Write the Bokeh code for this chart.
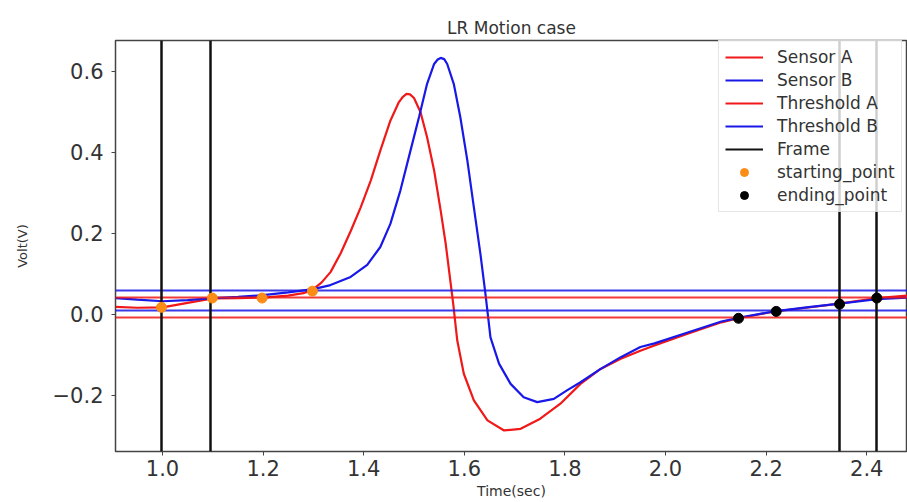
from bokeh.plotting import figure
from bokeh.models import FixedTicker, Legend
from bokeh.embed import file_html
from bokeh.resources import INLINE

NaN = float("nan")

# ---- data ----
sensor_a_x = [0.907, 0.95, 1.0, 1.05, 1.1, 1.15, 1.2, 1.25, 1.28, 1.298, 1.316, 1.334, 1.354, 1.374,
              1.394, 1.414, 1.433, 1.453, 1.470, 1.478, 1.485, 1.492, 1.500, 1.513, 1.526, 1.540, 1.553, 1.563,
              1.573, 1.578, 1.586, 1.599, 1.619, 1.646, 1.679, 1.712, 1.751, 1.791, 1.831, 1.871,
              1.911, 1.950, 1.978, 2.044, 2.111, 2.145, 2.2, 2.22, 2.28, 2.346, 2.42, 2.481]
sensor_a_y = [0.018, 0.016, 0.017, 0.028, 0.039, 0.040, 0.041, 0.046, 0.052, 0.060, 0.078, 0.104, 0.150, 0.205,
              0.264, 0.330, 0.404, 0.478, 0.524, 0.537, 0.544, 0.543, 0.534, 0.499, 0.437, 0.355, 0.256, 0.174,
              0.075, 0.025, -0.065, -0.147, -0.213, -0.262, -0.287, -0.283, -0.258, -0.221, -0.172, -0.135,
              -0.110, -0.090, -0.077, -0.048, -0.020, -0.010, 0.003, 0.007, 0.016, 0.026, 0.040, 0.046]

sensor_b_x = [0.907, 0.95, 1.0, 1.05, 1.1, 1.15, 1.2, 1.25, 1.3, 1.334, 1.374, 1.407, 1.433, 1.453,
              1.473, 1.493, 1.510, 1.526, 1.540, 1.547, 1.553, 1.560, 1.566, 1.579, 1.592, 1.606, 1.619, 1.632,
              1.642, 1.652, 1.669, 1.692, 1.718, 1.745, 1.778, 1.804, 1.831, 1.871, 1.911, 1.950,
              1.978, 2.044, 2.111, 2.145, 2.22, 2.28, 2.346, 2.42, 2.481]
sensor_b_y = [0.040, 0.036, 0.032, 0.035, 0.040, 0.043, 0.047, 0.054, 0.062, 0.072, 0.092, 0.122, 0.166, 0.223,
              0.306, 0.404, 0.487, 0.569, 0.618, 0.629, 0.633, 0.630, 0.618, 0.569, 0.487, 0.380, 0.264, 0.149,
              0.050, -0.057, -0.122, -0.172, -0.205, -0.217, -0.209, -0.188, -0.168, -0.135, -0.106, -0.081,
              -0.072, -0.045, -0.018, -0.009, 0.008, 0.017, 0.026, 0.037, 0.041]

threshold_a = [0.042, -0.009]
threshold_b = [0.059, 0.010]
frame_x = [0.998, 1.095, 2.345, 2.42]

start_x = [0.998, 1.099, 1.198, 1.298]
start_y = [0.017, 0.040, 0.040, 0.057]
end_x = [2.145, 2.22, 2.346, 2.42]
end_y = [-0.010, 0.007, 0.025, 0.040]

x_ticks = [1.0, 1.2, 1.4, 1.6, 1.8, 2.0, 2.2, 2.4]
x_labels = ["1.0", "1.2", "1.4", "1.6", "1.8", "2.0", "2.2", "2.4"]
y_ticks = [-0.2, 0.0, 0.2, 0.4, 0.6]
y_labels = ["\u22120.2", "0.0", "0.2", "0.4", "0.6"]

RED = "#f01818"
BLUE = "#1818e8"
ORANGE = "#fb8c15"
FONT = "DejaVu Sans"
TXT = "#333333"

p = figure(width=907, height=502, x_range=(0.9066, 2.481), y_range=(-0.339, 0.676),
           output_backend="svg", toolbar_location=None,
           min_border_left=115, min_border_right=0, min_border_top=40, min_border_bottom=51,
           title="LR Motion case")
p.background_fill_color = "white"
p.border_fill_color = "white"
p.grid.visible = False
p.outline_line_color = "#444444"
p.outline_line_width = 1.5

p.title.text_font = FONT
p.title.text_font_size = "17px"
p.title.text_font_style = "normal"
p.title.text_color = TXT
p.title.align = "center"
p.title.standoff = 6

# data lines
p.line(sensor_a_x, sensor_a_y, line_color=RED, line_width=2.2)
p.line(sensor_b_x, sensor_b_y, line_color=BLUE, line_width=2.2)
p.hspan(y=threshold_a, line_color=RED, line_width=2.2, line_alpha=0.85)
p.hspan(y=threshold_b, line_color=BLUE, line_width=2.2, line_alpha=0.85)
p.vspan(x=frame_x, line_color="#111111", line_width=2.5)
r_start = p.scatter(start_x, start_y, size=10, fill_color=ORANGE, line_color=ORANGE)
r_end = p.scatter(end_x, end_y, size=10, fill_color="black", line_color="black")

# legend proxies (draw nothing in the plot)
la = p.line([NaN], [NaN], line_color=RED, line_width=2.2)
lb = p.line([NaN], [NaN], line_color=BLUE, line_width=2.2)
lta = p.line([NaN], [NaN], line_color=RED, line_width=2.2)
ltb = p.line([NaN], [NaN], line_color=BLUE, line_width=2.2)
lf = p.line([NaN], [NaN], line_color="#111111", line_width=2.2)

legend = Legend(items=[("Sensor A", [la]), ("Sensor B", [lb]), ("Threshold A", [lta]),
                       ("Threshold B", [ltb]), ("Frame", [lf]),
                       ("starting_point", [r_start]), ("ending_point", [r_end])],
                location=(603, 239))
legend.label_text_font = FONT
legend.label_text_font_size = "17px"
legend.label_text_color = TXT
legend.glyph_width = 38
legend.glyph_height = 20
legend.label_height = 20
legend.spacing = 3
legend.padding = 6
legend.label_standoff = 14
legend.border_line_color = "#cccccc"
legend.border_line_width = 1
legend.background_fill_alpha = 0.8
legend.margin = 0
p.add_layout(legend)

for ax in (p.xaxis[0], p.yaxis[0]):
    ax.major_label_text_font = FONT
    ax.major_label_text_font_size = "21px"
    ax.major_label_text_color = TXT
    ax.axis_label_text_font = FONT
    ax.axis_label_text_font_style = "normal"
    ax.axis_label_text_color = TXT
    ax.axis_line_color = None
    ax.major_tick_line_color = "#444444"
    ax.major_tick_out = 4
    ax.major_tick_in = 0
    ax.minor_tick_line_color = None

p.xaxis.ticker = FixedTicker(ticks=x_ticks)
p.xaxis.major_label_overrides = dict(zip(x_ticks, x_labels))
p.xaxis.axis_label = "Time(sec)"
p.xaxis.axis_label_text_font_size = "14px"
p.xaxis.axis_label_standoff = 4
p.xaxis.major_label_standoff = 4

p.yaxis.ticker = FixedTicker(ticks=y_ticks)
p.yaxis.major_label_overrides = dict(zip(y_ticks, y_labels))
p.yaxis.axis_label = "Volt(V)"
p.yaxis.axis_label_text_font_size = "13px"
p.yaxis.axis_label_standoff = 20
p.yaxis.major_label_standoff = 8

open("out.html", "w").write(file_html(p, INLINE))
